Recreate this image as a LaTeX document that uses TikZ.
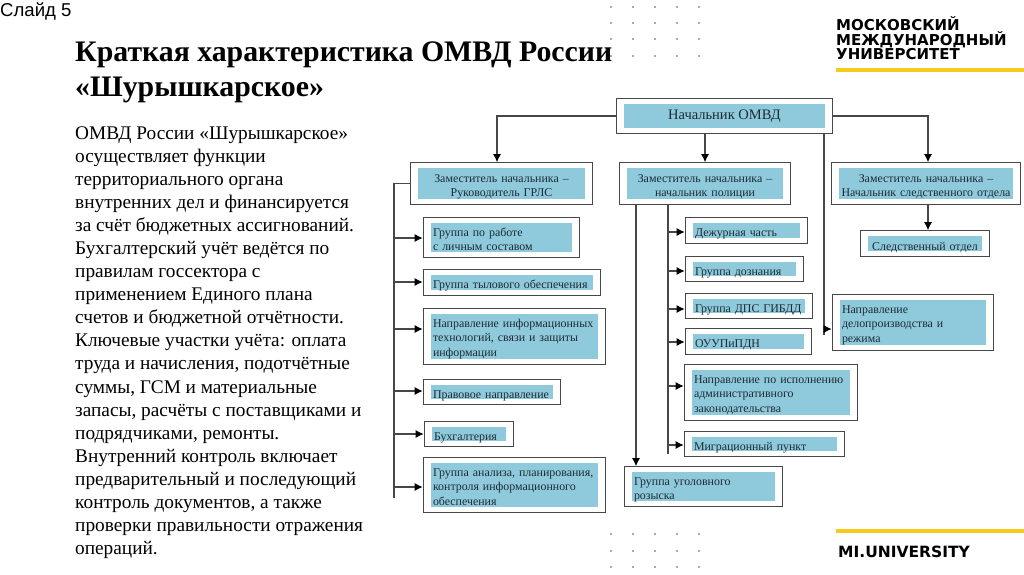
\documentclass[tikz,border=0pt]{standalone}
\usepackage{fontspec}
\usepackage{xcolor}
\usepackage{tikz}
\usetikzlibrary{arrows.meta,positioning,calc,fit}
\setmainfont{Liberation Serif}
\newfontfamily\slidefont{Liberation Sans}
\newfontfamily\logofont{DejaVu Sans}
\definecolor{OrgBlue}{HTML}{8FCADC}
\definecolor{OrgLine}{HTML}{474747}
\definecolor{OrgInk}{HTML}{1C2B33}
\definecolor{LogoYellow}{HTML}{F6CB1E}
\definecolor{DotGrey}{HTML}{555555}
\tikzset{
  headfill/.style 2 args={fill=OrgBlue,text=OrgInk,inner xsep=0pt,inner ysep=0pt,
        text width=#1,text height=14pt,text depth=#2-14pt,align=center,
        font=\fontsize{11.9}{14.7}\selectfont},
  leaffill/.style 2 args={fill=OrgBlue,text=OrgInk,inner xsep=2pt,inner ysep=0pt,
        text width=#1,text height=13pt,text depth=#2-13pt,align=left,
        font=\fontsize{11.9}{14.7}\selectfont},
  framebox/.style={draw=OrgLine,line width=1.2pt,inner xsep=7.5pt,inner ysep=5pt},
  orgline/.style={draw=OrgLine,line width=1.2pt},
  orgarrow/.style={orgline,-{Latex[length=8pt,width=8pt,black]}},
  yellowbar/.style={draw=none,fill=LogoYellow},
}
\begin{document}
\begin{tikzpicture}[x=1pt,y=-1pt]
  \useasboundingbox (0,0) rectangle (1024,574);

  \foreach \dotx in {611,633,655,677,699} {
    \foreach \doty in {7,23,39,56,534,551,567} {
      \fill[DotGrey] (\dotx,\doty) circle (0.9pt);
    }
  }

  \node[anchor=west,inner sep=0pt,font=\slidefont\fontsize{18.6}{20}\selectfont] (slidelabel)
        at (0,11) {Слайд 5};
  \node[anchor=north west,inner sep=0pt,align=left,
        font=\bfseries\fontsize{29.8}{35}\selectfont] (title) at (75,42)
        {Краткая характеристика ОМВД России\\«Шурышкарское»};
  \node[anchor=north west,inner sep=0pt,align=left,
        font=\fontsize{19.3}{23.05}\selectfont] (bodytext) at (75,126.5)
        {ОМВД России «Шурышкарское»\\
         осуществляет функции\\
         территориального органа\\
         внутренних дел и финансируется\\
         за счёт бюджетных ассигнований.\\
         Бухгалтерский учёт ведётся по\\
         правилам госсектора с\\
         применением Единого плана\\
         счетов и бюджетной отчётности.\\
         Ключевые участки учёта: оплата\\
         труда и начисления, подотчётные\\
         суммы, ГСМ и материальные\\
         запасы, расчёты с поставщиками и\\
         подрядчиками, ремонты.\\
         Внутренний контроль включает\\
         предварительный и последующий\\
         контроль документов, а также\\
         проверки правильности отражения\\
         операций.};

  \node[anchor=north west,inner sep=0pt,align=left,
        font=\logofont\bfseries\fontsize{15}{14}\selectfont] (logotext) at (836,16)
        {МОСКОВСКИЙ\\МЕЖДУНАРОДНЫЙ\\УНИВЕРСИТЕТ};
  \node[yellowbar,anchor=north west,minimum width=188pt,minimum height=4pt,inner sep=0pt]
        (topbar) at (836,68) {};
  \node[yellowbar,anchor=north west,minimum width=188pt,minimum height=4pt,inner sep=0pt]
        (bottombar) at (836,529) {};
  \node[anchor=west,inner sep=0pt,font=\logofont\bfseries\fontsize{15.5}{16}\selectfont]
        (unilabel) at (838,552) {MI.UNIVERSITY};

  \node[fill=OrgBlue,text=OrgInk,inner sep=0pt,minimum width=201pt,minimum height=24pt,
        font=\fontsize{14.5}{16}\selectfont] (chieffill) at (724.5,116) {Начальник ОМВД};
  \node[framebox,fit=(chieffill)] (chief) {};

  \node[headfill={167pt}{31pt}] (deputyAfill) at (501.5,183.5)
        {Заместитель начальника --\\Руководитель ГРЛС};
  \node[framebox,fit=(deputyAfill)] (deputyA) {};
  \node[headfill={156pt}{31pt}] (deputyBfill) at (705,183.5)
        {Заместитель начальника --\\начальник полиции};
  \node[framebox,fit=(deputyBfill)] (deputyB) {};
  \node[headfill={174pt}{31pt}] (deputyCfill) at (926,183.5)
        {Заместитель начальника --\\Начальник следственного отдела};
  \node[framebox,fit=(deputyCfill)] (deputyC) {};
  \node[headfill={114pt}{15pt}] (inquiryfill) at (925,243.5)
        {Следственный отдел};
  \node[framebox,fit=(inquiryfill)] (inquiry) {};

  \node[leaffill={137pt}{29pt}] (staffingfill) at (501.5,237.5)
        {Группа по работе\\с личным составом};
  \node[framebox,fit=(staffingfill)] (staffing) {};
  \node[leaffill={158pt}{15pt}] (supplyfill) at (512,282.5)
        {Группа тылового обеспечения};
  \node[framebox,fit=(supplyfill)] (supply) {};
  \node[leaffill={163pt}{45pt}] (infotechfill) at (514.5,336.5)
        {Направление информационных\\технологий, связи и защиты\\информации};
  \node[framebox,fit=(infotechfill)] (infotech) {};
  \node[leaffill={118pt}{14pt}] (legalfill) at (492,392)
        {Правовое направление};
  \node[framebox,fit=(legalfill)] (legal) {};
  \node[leaffill={70pt}{14pt}] (accountingfill) at (469,434)
        {Бухгалтерия};
  \node[framebox,fit=(accountingfill)] (accounting) {};
  \node[leaffill={163pt}{44pt}] (analysisfill) at (514.5,485)
        {Группа анализа, планирования,\\контроля информационного\\обеспечения};
  \node[framebox,fit=(analysisfill)] (analysis) {};

  \node[leaffill={103pt}{15pt}] (dutyfill) at (746.5,230.5)
        {Дежурная часть};
  \node[framebox,fit=(dutyfill)] (duty) {};
  \node[leaffill={99pt}{14pt}] (enquiryfill) at (744.5,269)
        {Группа дознания};
  \node[framebox,fit=(enquiryfill)] (enquiry) {};
  \node[leaffill={108pt}{14pt}] (trafficfill) at (749,306)
        {Группа ДПС ГИБДД};
  \node[framebox,fit=(trafficfill)] (traffic) {};
  \node[leaffill={107pt}{15pt}] (ouupfill) at (748.5,341.5)
        {ОУУПиПДН};
  \node[framebox,fit=(ouupfill)] (ouup) {};
  \node[leaffill={154pt}{45pt}] (lawfill) at (771,392.5)
        {Направление по исполнению\\административного\\законодательства};
  \node[framebox,fit=(lawfill)] (law) {};
  \node[leaffill={141pt}{14pt}] (migrationfill) at (764.5,444)
        {Миграционный пункт};
  \node[framebox,fit=(migrationfill)] (migration) {};
  \node[leaffill={139pt}{29pt}] (searchfill) at (703.5,486.5)
        {Группа уголовного\\розыска};
  \node[framebox,fit=(searchfill)] (search) {};
  \node[leaffill={142pt}{45pt}] (recordsfill) at (913,322.5)
        {Направление\\делопроизводства и\\режима};
  \node[framebox,fit=(recordsfill)] (records) {};

  \coordinate (axisA) at (497,0);
  \coordinate (axisC) at (928,0);
  \coordinate (spineA) at (394,498);
  \coordinate (spineB) at (668,454);
  \coordinate (spineS) at (636,0);
  \coordinate (spineR) at (824,335);

  \draw[orgarrow] (chief.west) -| (deputyA.north -| axisA);
  \draw[orgarrow] (chief.south -| deputyB.north) -- (deputyB.north);
  \draw[orgarrow] (chief.east) -| (deputyC.north -| axisC);
  \draw[orgline] (chief.south -| spineR) -- (spineR);
  \draw[orgarrow] (spineR |- 0,329) -- (records.west |- 0,329);
  \draw[orgarrow] (deputyC.south -| axisC) -- (inquiry.north -| axisC);

  \draw[orgline] (deputyA.west) -| (spineA);
  \foreach \target/\arrowy in {staffing/238,supply/282,infotech/329,legal/391,accounting/434,analysis/487} {
    \draw[orgarrow] (spineA |- 0,\arrowy) -- (\target.west |- 0,\arrowy);
  }
  \draw[orgline] (deputyB.south -| spineB) -- (spineB);
  \foreach \target/\arrowy in {duty/232,enquiry/271,traffic/309,ouup/342,law/386,migration/445} {
    \draw[orgarrow] (spineB |- 0,\arrowy) -- (\target.west |- 0,\arrowy);
  }
  \draw[orgarrow] (deputyB.south -| spineS) -- (search.north -| spineS);
\end{tikzpicture}
\end{document}
